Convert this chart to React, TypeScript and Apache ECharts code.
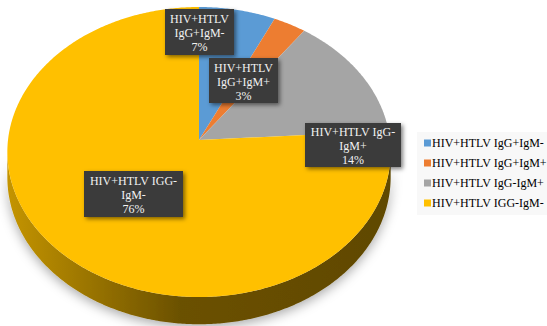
import React, { useEffect, useRef } from "react";
import * as echarts from "echarts";

// ---- data ----
const names = ["HIV+HTLV IgG+IgM-", "HIV+HTLV IgG+IgM+", "HIV+HTLV IgG-IgM+", "HIV+HTLV IGG-IgM-"];
const values = [7, 3, 14, 76];
const labelLines = [
  ["HIV+HTLV", "IgG+IgM-"],
  ["HIV+HTLV", "IgG+IgM+"],
  ["HIV+HTLV IgG-", "IgM+"],
  ["HIV+HTLV IGG-", "IgM-"],
];

// ---- style / layout ----
const colors = ["#5B9BD5", "#ED7D31", "#A5A5A5", "#FFC000"];
const labelBoxes = [
  [165, 9, 69, 46],
  [209, 58, 69, 45],
  [305, 123, 96, 44],
  [84, 171, 99, 46],
];
const CX = 199;
const CY = 140;
const RA = 191;
const RB = 144;
const K = 0.0828;
const DEPTH = 25;
const FONT = '12px "Liberation Serif", "Times New Roman", serif';

const total = values.reduce((a, b) => a + b, 0);
const starts: number[] = [];
values.reduce((acc, v, i) => {
  starts[i] = acc;
  return acc + v;
}, 0);

function proj(t: number, d = 0): number[] {
  const u = Math.sin(t);
  const v = -Math.cos(t);
  const s = 1 / (1 - K * v);
  return [CX + RA * u * s, CY + RB * v * s + d * s];
}

function arc(a0: number, a1: number, d = 0): number[][] {
  const n = Math.max(2, Math.ceil((a1 - a0) / 0.01));
  const pts: number[][] = [];
  for (let i = 0; i <= n; i++) pts.push(proj(a0 + ((a1 - a0) * i) / n, d));
  return pts;
}

function shade(hex: string, f: number): string {
  const n = parseInt(hex.slice(1), 16);
  const r = Math.round(((n >> 16) & 255) * f);
  const g = Math.round(((n >> 8) & 255) * f);
  const b = Math.round((n & 255) * f);
  return `rgb(${r},${g},${b})`;
}

const thetaR = Math.acos(-K);
const thetaL = 2 * Math.PI - thetaR;

function makeRender(idx: number) {
  return (params: any, api: any) => {
    const v = api.value(0);
    const st = api.value(1);
    const a0 = (st / total) * Math.PI * 2;
    const a1 = ((st + v) / total) * Math.PI * 2;
    const children: any[] = [];
    const lo = Math.max(a0, thetaR);
    const hi = Math.min(a1, thetaL);
    if (hi > lo) {
      const pts = arc(lo, hi, 0).concat(arc(lo, hi, DEPTH).reverse());
      children.push({
        type: "polygon",
        z2: 1,
        shape: { points: pts },
        style: {
          fill: new echarts.graphic.LinearGradient(
            CX - RA,
            0,
            CX + RA,
            0,
            [
              { offset: 0, color: shade(colors[idx], 0.77) },
              { offset: 0.45, color: shade(colors[idx], 0.42) },
              { offset: 1, color: shade(colors[idx], 0.375) },
            ],
            true
          ),
          shadowBlur: 12,
          shadowColor: "rgba(0,0,0,0.35)",
          shadowOffsetY: 3,
        },
      });
    }
    const top = [[CX, CY]].concat(arc(a0, a1, 0));
    children.push({
      type: "polygon",
      z2: 5,
      shape: { points: top },
      style: { fill: colors[idx] },
    });
    const [bx, by, bw, bh] = labelBoxes[idx];
    children.push({
      type: "rect",
      z2: 10,
      shape: { x: bx, y: by, width: bw, height: bh },
      style: {
        fill: "#3a3a3a",
        shadowBlur: 4,
        shadowOffsetX: 2,
        shadowOffsetY: 2,
        shadowColor: "rgba(0,0,0,0.5)",
      },
    });
    const pct = Math.round((v / total) * 100) + "%";
    children.push({
      type: "text",
      z2: 11,
      x: bx + bw / 2,
      y: by + bh / 2 + 1,
      style: {
        text: labelLines[idx].concat([pct]).join("\n"),
        font: FONT,
        fill: "#f2f2f2",
        align: "center",
        verticalAlign: "middle",
        lineHeight: 14,
      },
    });
    return { type: "group", children };
  };
}

export default function App() {
  const ref = useRef<HTMLDivElement>(null);
  useEffect(() => {
    if (!ref.current) return;
    const chart = echarts.init(ref.current, null, { renderer: "svg" });
    chart.setOption({
      animation: false,
      backgroundColor: "#ffffff",
      legend: {
        orient: "vertical",
        left: 417,
        top: 132,
        padding: [4, 10, 5, 7],
        backgroundColor: "#f8f8f8",
        itemWidth: 7,
        itemHeight: 7,
        itemGap: 6,
        icon: "rect",
        selectedMode: false,
        data: names,
        textStyle: {
          fontFamily: '"Liberation Serif", "Times New Roman", serif',
          fontSize: 12,
          color: "#000",
          lineHeight: 14,
          padding: [0, 0, 0, -4],
        },
      },
      series: names.map((name, i) => ({
        type: "custom",
        name,
        coordinateSystem: "none",
        itemStyle: { color: colors[i] },
        renderItem: makeRender(i),
        data: [[values[i], starts[i]]],
      })),
    });
    return () => chart.dispose();
  }, []);
  return (
    <div
      ref={ref}
      style={{ position: "fixed", left: 0, top: 0, width: 547, height: 326, background: "#fff" }}
    />
  );
}
